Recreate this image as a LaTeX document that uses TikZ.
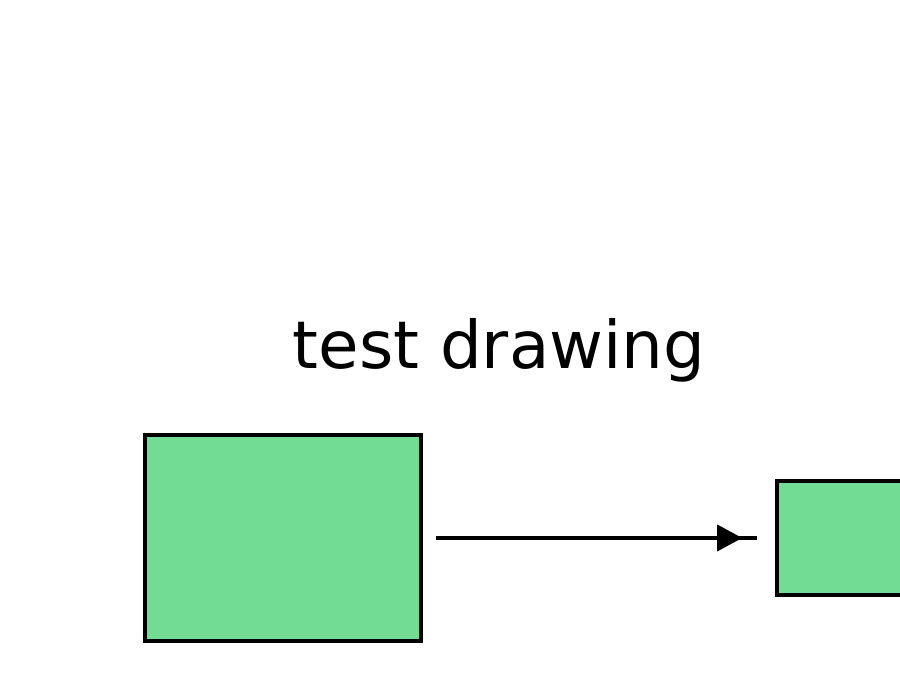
\documentclass[tikz,border=0pt]{standalone}
\usepackage{fontspec}
\setmainfont{DejaVu Sans}
\usepackage{xcolor}
\definecolor{boxgreen}{RGB}{114,219,148}
\usetikzlibrary{arrows.meta,positioning,decorations.markings}
\tikzset{
  block/.style={rectangle,draw=black,fill=boxgreen,line width=2pt,inner sep=0pt},
  line/.style={draw,line width=2pt,shorten <=0.26cm,shorten >=0.36cm,
    postaction={decorate},
    decoration={markings,mark=at position 0.907 with {\arrow{Triangle[length=0.5cm,width=0.52cm]}}}},
  title/.style={font=\fontsize{37.5}{40}\selectfont,anchor=base,inner sep=0pt},
}
\begin{document}
\begin{tikzpicture}
   \clip (0,0) rectangle (18,14);
   \node[title] (T) at (9.98,6.62) {test drawing};
   \node[block,minimum width=5.52cm,minimum height=4.12cm] (A) at (5.66,3.24) {};
   \node[block,minimum width=4cm,minimum height=2.28cm,anchor=west] (B) at (15.5,3.24) {};

  \path[line] (A.east) -- (B.west);
\end{tikzpicture}
\end{document}
